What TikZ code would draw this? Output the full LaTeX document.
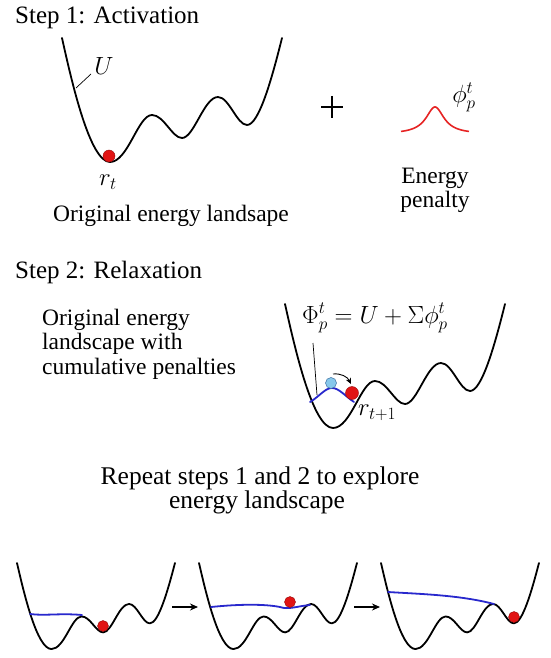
\documentclass[tikz,border=0pt]{standalone}
\usepackage{fontspec}
\setmainfont{Liberation Serif}
\usetikzlibrary{arrows.meta}
\definecolor{ballred}{RGB}{225,20,20}
\definecolor{balledge}{RGB}{150,10,10}
\definecolor{penblue}{RGB}{40,40,205}
\definecolor{lightball}{RGB}{135,200,235}
\definecolor{lightedge}{RGB}{60,110,160}
\definecolor{penred}{RGB}{230,35,35}
\tikzset{
  landline/.style={line width=1.8pt, black, line cap=round, line join=round},
  blueline/.style={line width=1.8pt, penblue, line cap=round},
  redball/.style={circle, fill=ballred, draw=balledge, line width=0.4pt, inner sep=0pt},
  lightballst/.style={circle, fill=lightball, draw=lightedge, line width=0.5pt, inner sep=0pt},
  headtxt/.style={font=\fontsize{25}{30}\selectfont, inner sep=0pt},
  bodytxt/.style={font=\fontsize{23.5}{28}\selectfont, inner sep=0pt},
  bigtxt/.style={font=\fontsize{25.5}{30}\selectfont, inner sep=0pt},
  mathtxt/.style={font=\fontsize{24}{28}\selectfont, inner sep=0pt},
  leader/.style={line width=0.7pt, black},
  flowarrow/.style={line width=1.2pt, -{Stealth[length=8pt,width=7pt]}},
  land/.pic={
    \draw[landline] (0,0) .. controls (10,45) and (28,124) .. (48,124)
      .. controls (66,124) and (76,77) .. (90,77)
      .. controls (102,77) and (110,100) .. (120,100)
      .. controls (132,100) and (142,59) .. (156,59)
      .. controls (167,59) and (175,87) .. (185,87)
      .. controls (197,87) and (210,40) .. (220,0);
  }
}
\begin{document}
\begin{tikzpicture}[x=1pt,y=-1pt]
\useasboundingbox (0,0) rectangle (551,658);
\fill[white] (0,0) rectangle (551,658);

% ---------- Step 1 ----------
\node[headtxt, anchor=base west] (h1) at (15,24) {Step 1: Activation};
\pic at (62,38) {land};
\node[redball, minimum size=12pt] (b1) at (109,156) {};
\node[mathtxt] (ulab) at (104,66) {$U$};
\coordinate (uend) at (76,88);
\draw[leader] (uend) -- (91,74);
\node[mathtxt] (rt) at (108,182) {$r_t$};
\node[bodytxt, anchor=base] (orig1) at (171,221) {Original energy landsape};

\draw[line width=1.1pt] (321,107) -- (343,107) (332,96) -- (332,118);

\draw[penred, line width=1.6pt, domain=401:469, samples=80, smooth]
  plot (\x, {134-27/(1+((\x-435)/11)^2)});
\node[mathtxt] (phi) at (464,97) {$\phi_p^t$};
\node[bodytxt, anchor=base] (en1) at (435,183) {Energy};
\node[bodytxt, anchor=base] (en2) at (435,207) {penalty};

% ---------- Step 2 ----------
\node[headtxt, anchor=base west] (h2) at (15,278) {Step 2: Relaxation};
\node[bodytxt, anchor=base west] (t21) at (42,325) {Original energy};
\node[bodytxt, anchor=base west] (t22) at (42,349.5) {landscape with};
\node[bodytxt, anchor=base west] (t23) at (42,374) {cumulative penalties};

\pic at (285,304) {land};
\node[mathtxt, anchor=base west] (form) at (302,323) {$\Phi_p^t = U + \Sigma\phi_p^t$};
\draw[blueline] (310,402) .. controls (320,396) and (325,388) .. (332,388)
  .. controls (339,388) and (345,396) .. (354,402);
\coordinate (fstart) at (313,343);
\coordinate (fend) at (317,395);
\draw[leader] (fstart) -- (fend);
\node[lightballst, minimum size=11pt] (lb) at (331,383) {};
\node[redball, minimum size=13pt] (b2) at (352,393) {};
\draw[line width=0.9pt, -{Stealth[length=6pt,width=5.5pt]}] (333,374) to[bend left=35] (351,384);
\node[mathtxt] (rt1) at (377,413) {$r_{t+1}$};

% ---------- Repeat ----------
\node[bigtxt, anchor=base] (rep1) at (260,484) {Repeat steps 1 and 2 to explore};
\node[bigtxt, anchor=base] (rep2) at (257,508) {energy landscape};

\pic[xscale=0.718, yscale=0.694] at (17,563) {land};
\pic[xscale=0.718, yscale=0.694] at (199,563) {land};
\pic[xscale=0.718, yscale=0.694] at (381,563) {land};

\draw[blueline] (30,614) .. controls (45,616) and (60,613) .. (82,615);
\node[redball, minimum size=11pt] (p1) at (103,626) {};

\draw[blueline] (211,607) .. controls (240,604) and (265,604) .. (280,607)
  .. controls (288,610) and (298,606) .. (310,605);
\node[redball, minimum size=11pt] (p2) at (290,602) {};

\draw[blueline] (388,592) .. controls (420,594) and (460,595) .. (494,604);
\node[redball, minimum size=11pt] (p3) at (514,617) {};

\coordinate (a1s) at (172,607);
\coordinate (a1e) at (198,607);
\coordinate (a2s) at (354,607);
\coordinate (a2e) at (380,607);
\draw[flowarrow] (a1s) -- (a1e);
\draw[flowarrow] (a2s) -- (a2e);
\end{tikzpicture}
\end{document}
